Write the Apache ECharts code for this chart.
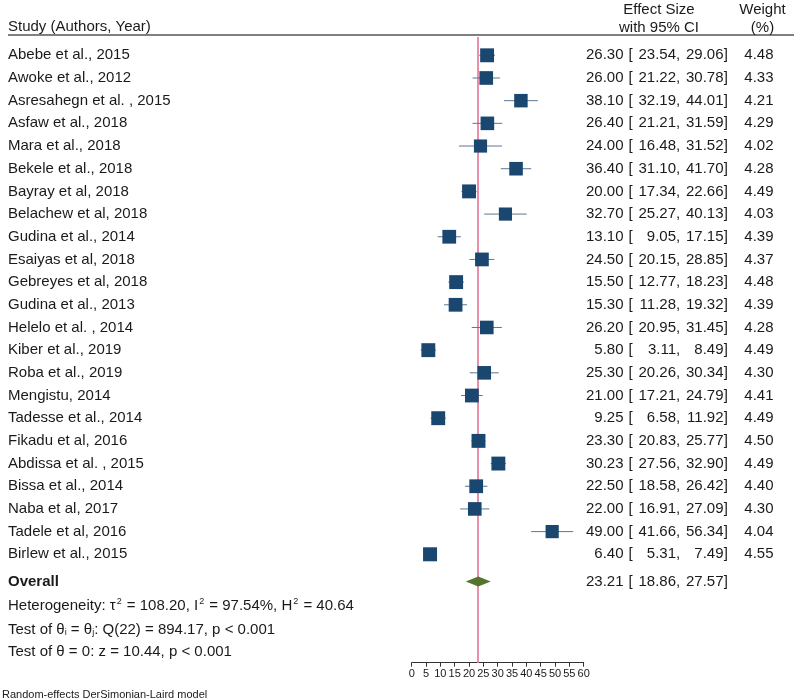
<!DOCTYPE html>
<html>
<head>
<meta charset="utf-8">
<script src="https://cdn.jsdelivr.net/npm/echarts@6/dist/echarts.min.js"></script>
<style>html,body{margin:0;padding:0;background:#fff;}#c{width:794px;height:700px;}</style>
</head>
<body>
<div id="c"></div>
<script>
const studies = ["Abebe et al., 2015","Awoke et al., 2012","Asresahegn et al. , 2015","Asfaw et al., 2018","Mara et al., 2018","Bekele et al., 2018","Bayray et al, 2018","Belachew et al, 2018","Gudina et al., 2014","Esaiyas et al, 2018","Gebreyes et al, 2018","Gudina et al., 2013","Helelo et al. , 2014","Kiber et al., 2019","Roba et al., 2019","Mengistu, 2014","Tadesse et al., 2014","Fikadu et al, 2016","Abdissa et al. , 2015","Bissa et al., 2014","Naba et al, 2017","Tadele et al, 2016","Birlew et al., 2015"];
const es     = [26.30,26.00,38.10,26.40,24.00,36.40,20.00,32.70,13.10,24.50,15.50,15.30,26.20,5.80,25.30,21.00,9.25,23.30,30.23,22.50,22.00,49.00,6.40];
const lower  = [23.54,21.22,32.19,21.21,16.48,31.10,17.34,25.27,9.05,20.15,12.77,11.28,20.95,3.11,20.26,17.21,6.58,20.83,27.56,18.58,16.91,41.66,5.31];
const upper  = [29.06,30.78,44.01,31.59,31.52,41.70,22.66,40.13,17.15,28.85,18.23,19.32,31.45,8.49,30.34,24.79,11.92,25.77,32.90,26.42,27.09,56.34,7.49];
const weights= [4.48,4.33,4.21,4.29,4.02,4.28,4.49,4.03,4.39,4.37,4.48,4.39,4.28,4.49,4.30,4.41,4.49,4.50,4.49,4.40,4.30,4.04,4.55];
const overallLabel = "Overall";
const overallES = 23.21, overallLo = 18.86, overallHi = 27.57;
const overallRow = 23.2;
const xTicks = [0,5,10,15,20,25,30,35,40,45,50,55,60];

const FONT = "'Liberation Sans', Arial, Helvetica, sans-serif";
const TXT = '#1a1a1a';
const NAVY = '#1a476f';
const PINK = '#e98fa9';
const GREEN = '#55752f';

const rows = studies.map((s, i) => [es[i], i, lower[i], upper[i], weights[i]]);
const allRows = rows.concat([[overallES, overallRow, overallLo, overallHi, null]]);
const fmt = v => v.toFixed(2);

const chart = echarts.init(document.getElementById('c'), null, {renderer: 'canvas'});
chart.setOption({
  animation: false,
  backgroundColor: '#fff',
  grid: {left: 411.7, right: 210.3, top: 37, bottom: 37.3, containLabel: false},
  xAxis: {
    type: 'value', position: 'bottom', min: xTicks[0], max: xTicks[xTicks.length-1], interval: 5,
    axisLine: {show: true, onZero: false, lineStyle: {color: '#333', width: 1}},
    axisTick: {show: true, length: 4, lineStyle: {color: '#333'}},
    axisLabel: {fontSize: 11, fontFamily: FONT, color: TXT, margin: 6, showMinLabel: true, showMaxLabel: true, hideOverlap: false},
    splitLine: {show: false}
  },
  yAxis: {type: 'value', inverse: true, min: -0.807, max: 26.78, show: false},
  series: [
    {
      type: 'line', name: 'ref', z: 1, data: [],
      markLine: {
        silent: true, symbol: 'none', label: {show: false}, z: 1,
        lineStyle: {color: PINK, width: 2, type: 'solid'},
        data: [{xAxis: overallES}]
      }
    },
    {
      type: 'custom', name: 'ci', z: 2,
      data: rows,
      renderItem: function (params, api) {
        const a = api.coord([api.value(2), api.value(1)]);
        const b = api.coord([api.value(3), api.value(1)]);
        return {type: 'line', shape: {x1: a[0], y1: a[1], x2: b[0], y2: b[1]}, style: {stroke: '#5a7896', lineWidth: 1}};
      }
    },
    {
      type: 'scatter', name: 'es', z: 3,
      symbol: 'rect',
      data: rows.map(r => [r[0], r[1], r[4]]),
      symbolSize: function (v) { return 14 * Math.sqrt(v[2] / 4.55); },
      itemStyle: {color: NAVY, opacity: 1}
    },
    {
      type: 'custom', name: 'diamond', z: 4,
      data: [[overallES, overallRow, overallLo, overallHi]],
      renderItem: function (params, api) {
        const c = api.coord([api.value(0), api.value(1)]);
        const l = api.coord([api.value(2), api.value(1)]);
        const r = api.coord([api.value(3), api.value(1)]);
        const h = 5;
        return {type: 'polygon', shape: {points: [[l[0], c[1]], [c[0], c[1]-h], [r[0], c[1]], [c[0], c[1]+h]]}, style: {fill: GREEN}};
      }
    },
    {
      type: 'custom', name: 'labels', z: 5, clip: false,
      data: allRows.map((r, i) => [r[0], r[1], r[2], r[3], r[4] == null ? -1 : r[4], i]),
      renderItem: function (params, api) {
        const idx = api.value(5);
        const y = api.coord([0, api.value(1)])[1];
        const isOverall = idx >= studies.length;
        const base = {font: '15px ' + FONT, fill: TXT, verticalAlign: 'middle'};
        const ch = [];
        ch.push({type: 'text', x: 8, y: y, style: Object.assign({}, base, {text: isOverall ? overallLabel : studies[idx], align: 'left', font: (isOverall ? 'bold ' : '') + '15px ' + FONT})});
        ch.push({type: 'text', x: 623.5, y: y, style: Object.assign({}, base, {text: fmt(api.value(0)), align: 'right'})});
        ch.push({type: 'text', x: 628.5, y: y, style: Object.assign({}, base, {text: '[', align: 'left'})});
        ch.push({type: 'text', x: 676, y: y, style: Object.assign({}, base, {text: fmt(api.value(2)), align: 'right'})});
        ch.push({type: 'text', x: 676, y: y, style: Object.assign({}, base, {text: ',', align: 'left'})});
        ch.push({type: 'text', x: 723.5, y: y, style: Object.assign({}, base, {text: fmt(api.value(3)), align: 'right'})});
        ch.push({type: 'text', x: 723.8, y: y, style: Object.assign({}, base, {text: ']', align: 'left'})});
        if (!isOverall) {
          ch.push({type: 'text', x: 773.5, y: y, style: Object.assign({}, base, {text: fmt(api.value(4)), align: 'right'})});
        }
        return {type: 'group', children: ch};
      }
    }
  ],
  graphic: [
    {type: 'line', shape: {x1: 8, y1: 35, x2: 794, y2: 35}, style: {stroke: '#555', lineWidth: 1.5}},
    {type: 'text', x: 8, y: 27, style: {text: 'Study (Authors, Year)', font: '15px ' + FONT, fill: TXT, align: 'left', verticalAlign: 'middle'}},
    {type: 'text', x: 659, y: 9.5, style: {text: 'Effect Size', font: '15px ' + FONT, fill: TXT, align: 'center', verticalAlign: 'middle'}},
    {type: 'text', x: 659, y: 28, style: {text: 'with 95% CI', font: '15px ' + FONT, fill: TXT, align: 'center', verticalAlign: 'middle'}},
    {type: 'text', x: 762.5, y: 9.5, style: {text: 'Weight', font: '15px ' + FONT, fill: TXT, align: 'center', verticalAlign: 'middle'}},
    {type: 'text', x: 762.5, y: 28, style: {text: '(%)', font: '15px ' + FONT, fill: TXT, align: 'center', verticalAlign: 'middle'}},
    {type: 'text', x: 8, y: 606, style: {
      text: 'Heterogeneity: τ{sup|2} = 108.20, I{sup|2} = 97.54%, H{sup|2} = 40.64',
      font: '15px ' + FONT, fill: TXT, align: 'left', verticalAlign: 'middle',
      rich: {sup: {fontSize: 9, fontFamily: FONT, fill: TXT, verticalAlign: 'top', padding: [0, 1, 8, 1]}}
    }},
    {type: 'text', x: 8, y: 630, style: {
      text: 'Test of θ{sub|i} = θ{sub|j}: Q(22) = 894.17, p < 0.001',
      font: '15px ' + FONT, fill: TXT, align: 'left', verticalAlign: 'middle',
      rich: {sub: {fontSize: 9, fontFamily: FONT, fill: TXT, verticalAlign: 'bottom', padding: [6, 0, 0, 0]}}
    }},
    {type: 'text', x: 8, y: 652, style: {text: 'Test of θ = 0: z = 10.44, p < 0.001', font: '15px ' + FONT, fill: TXT, align: 'left', verticalAlign: 'middle'}},
    {type: 'text', x: 2, y: 695, style: {text: 'Random-effects DerSimonian-Laird model', font: '11px ' + FONT, fill: TXT, align: 'left', verticalAlign: 'middle'}}
  ]
});
</script>
</body>
</html>
